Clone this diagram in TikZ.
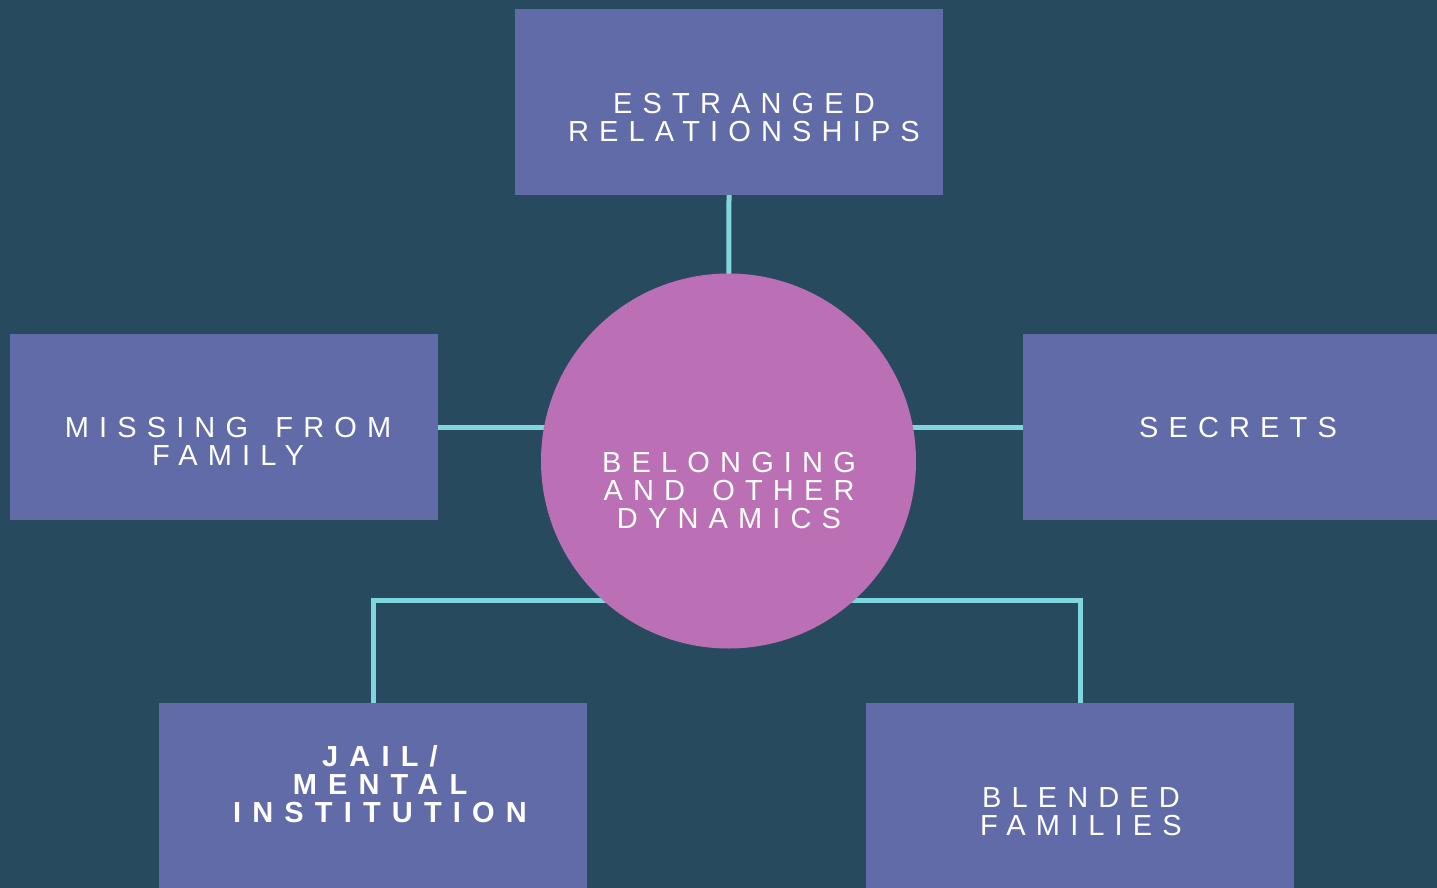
\documentclass[tikz,border=0pt]{standalone}
\usepackage{fontspec}
\setmainfont{Liberation Sans}[LetterSpace=35, WordSpace=1.5, BoldFeatures={LetterSpace=38.5}]
\pgfdeclarelayer{back}
\pgfdeclarelayer{lines}
\pgfsetlayers{back,lines,main}
\definecolor{bgc}{RGB}{39,74,95}
\definecolor{boxc}{RGB}{96,107,168}
\definecolor{circc}{RGB}{187,111,180}
\definecolor{linec}{RGB}{127,214,220}
\begin{document}
\begin{tikzpicture}[x=1pt,y=-1pt,
  box/.style={fill=boxc, draw=none, minimum width=428pt, minimum height=186pt, inner sep=0pt},
  hub/.style={circle, fill=circc, draw=none, minimum size=375pt, inner sep=0pt},
  lbl/.style={text=white, align=center, inner sep=0pt, font=\fontsize{29}{28}\selectfont},
  conn/.style={draw=linec, line width=5pt}]
\useasboundingbox (0,0) rectangle (1437,888);
\begin{pgfonlayer}{back}
\fill[bgc] (0,0) rectangle (1437,888);
\end{pgfonlayer}
\clip (0,0) rectangle (1437,888);
% boxes
\node[box] (top) at (729,102) {};
\node[box] (left) at (224,427) {};
\node[box] (right) at (1237,427) {};
\node[box] (jail) at (373,796) {};
\node[box] (blend) at (1080,796) {};
\node[hub] (hub) at (728.5,461) {};
% labels
\node[lbl] (ttop) at (744,118) {ESTRANGED\\RELATIONSHIPS};
\node[lbl] (tleft) at (228,441) {MISSING FROM\\FAMILY};
\node[lbl] (tright) at (1238,428) {SECRETS};
\node[lbl] (thub) at (729,491) {BELONGING\\AND OTHER\\DYNAMICS};
\node[lbl, font=\fontsize{29}{28}\selectfont\bfseries] (tjail) at (380,784) {JAIL/\\MENTAL\\INSTITUTION};
\node[lbl] (tblend) at (1081,812) {BLENDED\\FAMILIES};
% connectors
\begin{pgfonlayer}{lines}
\draw[conn] (top.south) -- (hub.center);
\draw[conn] (left.east) -- (left.east -| hub.center);
\draw[conn] (right.west) -- (right.west -| hub.center);
\draw[conn] (jail.north) -- ++(0,-102) coordinate (bus) -| (blend.north);
\end{pgfonlayer}
\end{tikzpicture}
\end{document}
